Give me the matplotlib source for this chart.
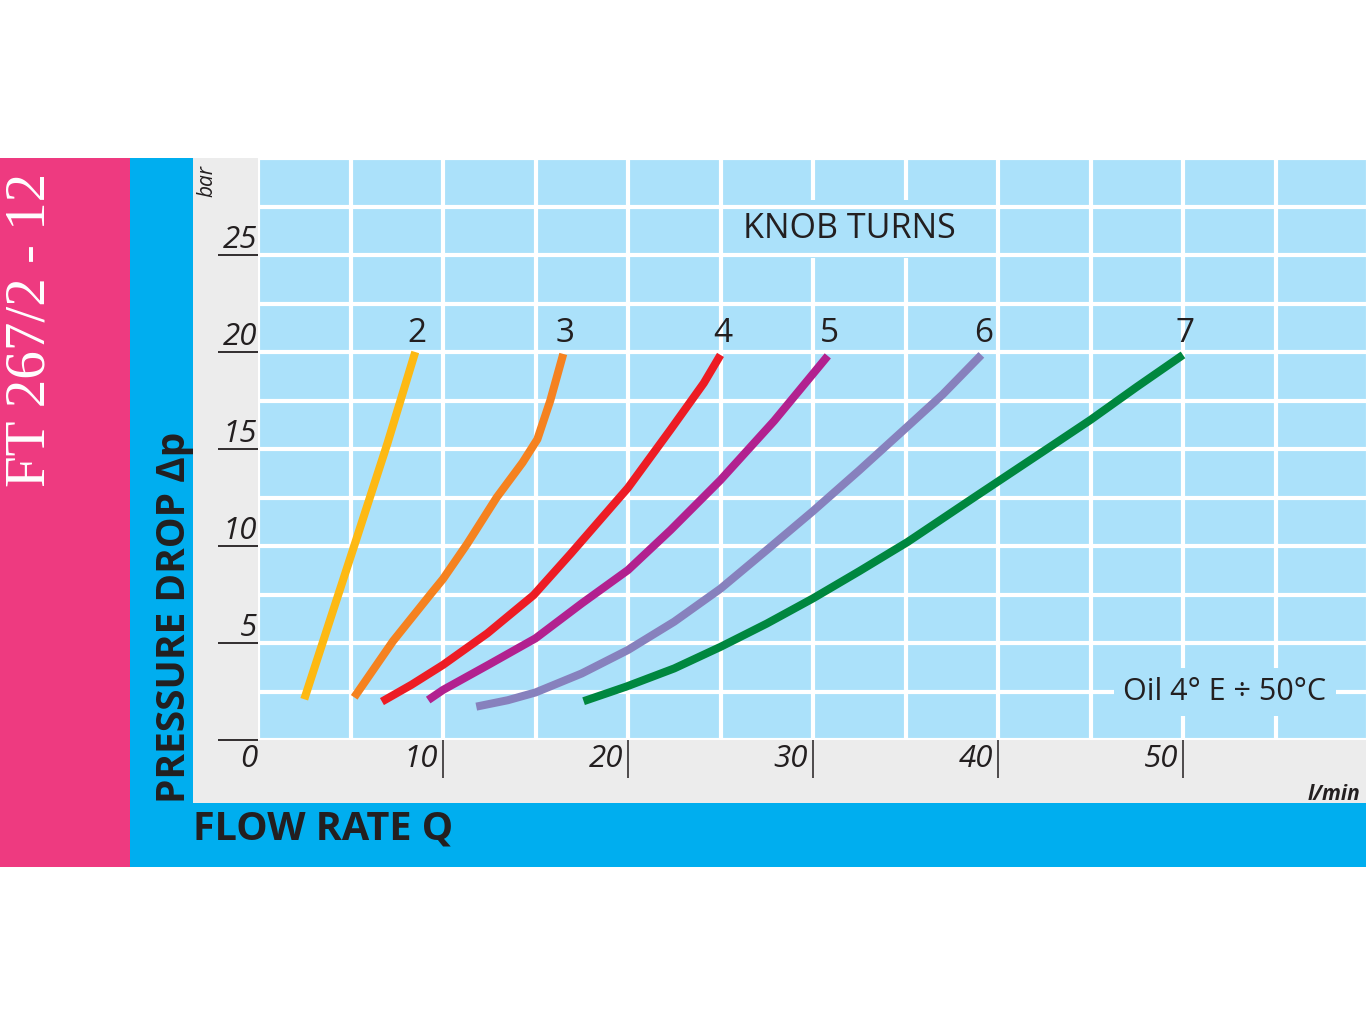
import numpy as np
import matplotlib
matplotlib.use('Agg')
import matplotlib.pyplot as plt
from matplotlib.patches import Rectangle
from matplotlib.transforms import ScaledTranslation

plt.rcParams['font.family'] = ['Open Sans', 'DejaVu Sans']

# flow rate Q (l/min) vs pressure drop (bar), one curve per knob turn
q2 = [2.5, 4.0, 5.3, 7.0, 8.5]
p2 = [2.1, 6.5, 10.3, 15.3, 20.0]
q3 = [5.2, 7.3, 9.4, 10.0, 11.3, 12.9, 14.3, 15.1, 15.8, 16.5]
p3 = [2.2, 5.1, 7.6, 8.3, 10.1, 12.5, 14.3, 15.5, 17.5, 19.9]
q4 = [6.7, 8.3, 10.0, 12.4, 14.9, 16.9, 20.0, 22.3, 24.1, 25.0]
p4 = [1.98, 2.85, 3.87, 5.5, 7.47, 9.6, 13.0, 16.0, 18.4, 19.85]
q5 = [9.2, 10.0, 12.5, 15.0, 17.5, 20.0, 22.3, 25.0, 27.9, 30.8]
p5 = [2.06, 2.58, 3.9, 5.24, 7.04, 8.76, 10.82, 13.4, 16.45, 19.8]
q6 = [11.8, 13.5, 15.0, 17.5, 20.0, 22.5, 25.0, 27.5, 30.0, 32.5, 35.1, 37.0, 39.1]
p6 = [1.72, 2.05, 2.45, 3.43, 4.64, 6.1, 7.8, 9.79, 11.8, 13.9, 16.15, 17.8, 19.85]
q7 = [17.6, 19.9, 22.5, 25.0, 27.5, 30.0, 32.5, 35.1, 38.7, 42.8, 45.0, 47.5, 50.0]
p7 = [2.0, 2.75, 3.69, 4.8, 6.0, 7.3, 8.7, 10.2, 12.5, 15.1, 16.5, 18.2, 19.85]

turns = ['2', '3', '4', '5', '6', '7']
colors = ['#FDB913', '#F58220', '#ED1C24', '#B2218F', '#8781BD', '#00873F']

x_ticks = [0, 10, 20, 30, 40, 50]
x_tick_labels = ['0', '10', '20', '30', '40', '50']
y_ticks = [0, 5, 10, 15, 20, 25]
y_tick_labels = ['', '5', '10', '15', '20', '25']

W, H = 1368, 1026
ink = '#231F20'
plot_bg = '#ABE1FA'

fig = plt.figure(figsize=(W / 100, H / 100), dpi=100)


def band(x0, y0, x1, y1, color):
    fig.add_artist(Rectangle((x0 / W, 1 - y1 / H), (x1 - x0) / W, (y1 - y0) / H,
                             transform=fig.transFigure, facecolor=color,
                             edgecolor='none', zorder=-5))


band(0, 158, 130, 867, '#EE3A80')
band(130, 158, 1366, 867, '#00AEEF')
band(193, 158, 1366, 803, '#ECECEC')

ax = fig.add_axes([258 / W, 1 - 740 / H, (W - 258) / W, 582 / H])
ax.set_facecolor(plot_bg)
ax.set_xlim(0, 60)
ax.set_ylim(0, 30)
for s in ax.spines.values():
    s.set_visible(False)

for x in np.arange(0, 61, 5):
    ax.axvline(x, color='white', lw=3, zorder=0.5)
for y in np.arange(0, 30.1, 2.5):
    ax.axhline(y, color='white', lw=3, zorder=0.7)

ax.set_xticks(x_ticks)
ax.set_xticklabels(x_tick_labels)
ax.set_yticks(y_ticks)
ax.set_yticklabels(y_tick_labels)
ax.tick_params(axis='x', length=27.4, width=1.1, color=ink, pad=-24.3,
               labelsize=22.5, labelcolor=ink)
ax.tick_params(axis='y', length=28.8, width=1.3, color=ink, pad=-28.1,
               labelsize=22.5, labelcolor=ink)
ax.xaxis.get_major_ticks()[0].tick1line.set_visible(False)

for i, lab in enumerate(ax.get_xticklabels()):
    lab.set_fontstyle('italic')
    lab.set_ha('right')
    dx = -1 if i == 0 else -5
    lab.set_transform(lab.get_transform() + ScaledTranslation(dx / 100, 0, fig.dpi_scale_trans))
for lab in ax.get_yticklabels():
    lab.set_fontstyle('italic')
    lab.set_va('bottom')

series = [(q2, p2), (q3, p3), (q4, p4), (q5, p5), (q6, p6), (q7, p7)]
for (q, p), c, t in zip(series, colors, turns):
    ax.plot(q, p, color=c, lw=5.8, solid_capstyle='butt', solid_joinstyle='round', zorder=2)
    ax.text(q[-1] + 0.1, 20.5, t, ha='center', va='baseline', fontsize=24, color=ink, zorder=5)

ax.text(31.95, 26.34, 'KNOB TURNS', ha='center', va='center', fontsize=24.5, color=ink,
        zorder=0.6, bbox=dict(boxstyle='square,pad=0.35', fc=plot_bg, ec='none'))
ax.text(52.27, 2.47, 'Oil 4° E ÷ 50°C', ha='center', va='center', fontsize=22, color=ink,
        zorder=4, bbox=dict(boxstyle='square,pad=0.3', fc=plot_bg, ec='none'))

fig.text(31 / W, 1 - 330 / H, 'FT 267/2 - 12', rotation=90, ha='center', va='center',
         color='white', fontsize=41, family=['Liberation Serif', 'DejaVu Serif'])
fig.text(174 / W, 1 - 803 / H, 'PRESSURE DROP Δp', rotation=90, ha='center', va='bottom',
         fontsize=28, fontweight='bold', color=ink)
fig.text(193 / W, 1 - 840 / H, 'FLOW RATE Q', ha='left', va='baseline',
         fontsize=28.5, fontweight='bold', color=ink)
fig.text(207 / W, 1 - 181 / H, 'bar', rotation=90, ha='center', va='center',
         fontsize=15, style='italic', color=ink)
fig.text(1360 / W, 1 - 800 / H, 'l/min', ha='right', va='baseline',
         fontsize=15, style='italic', fontweight='bold', color=ink)

fig.savefig('out.png', dpi=100)
